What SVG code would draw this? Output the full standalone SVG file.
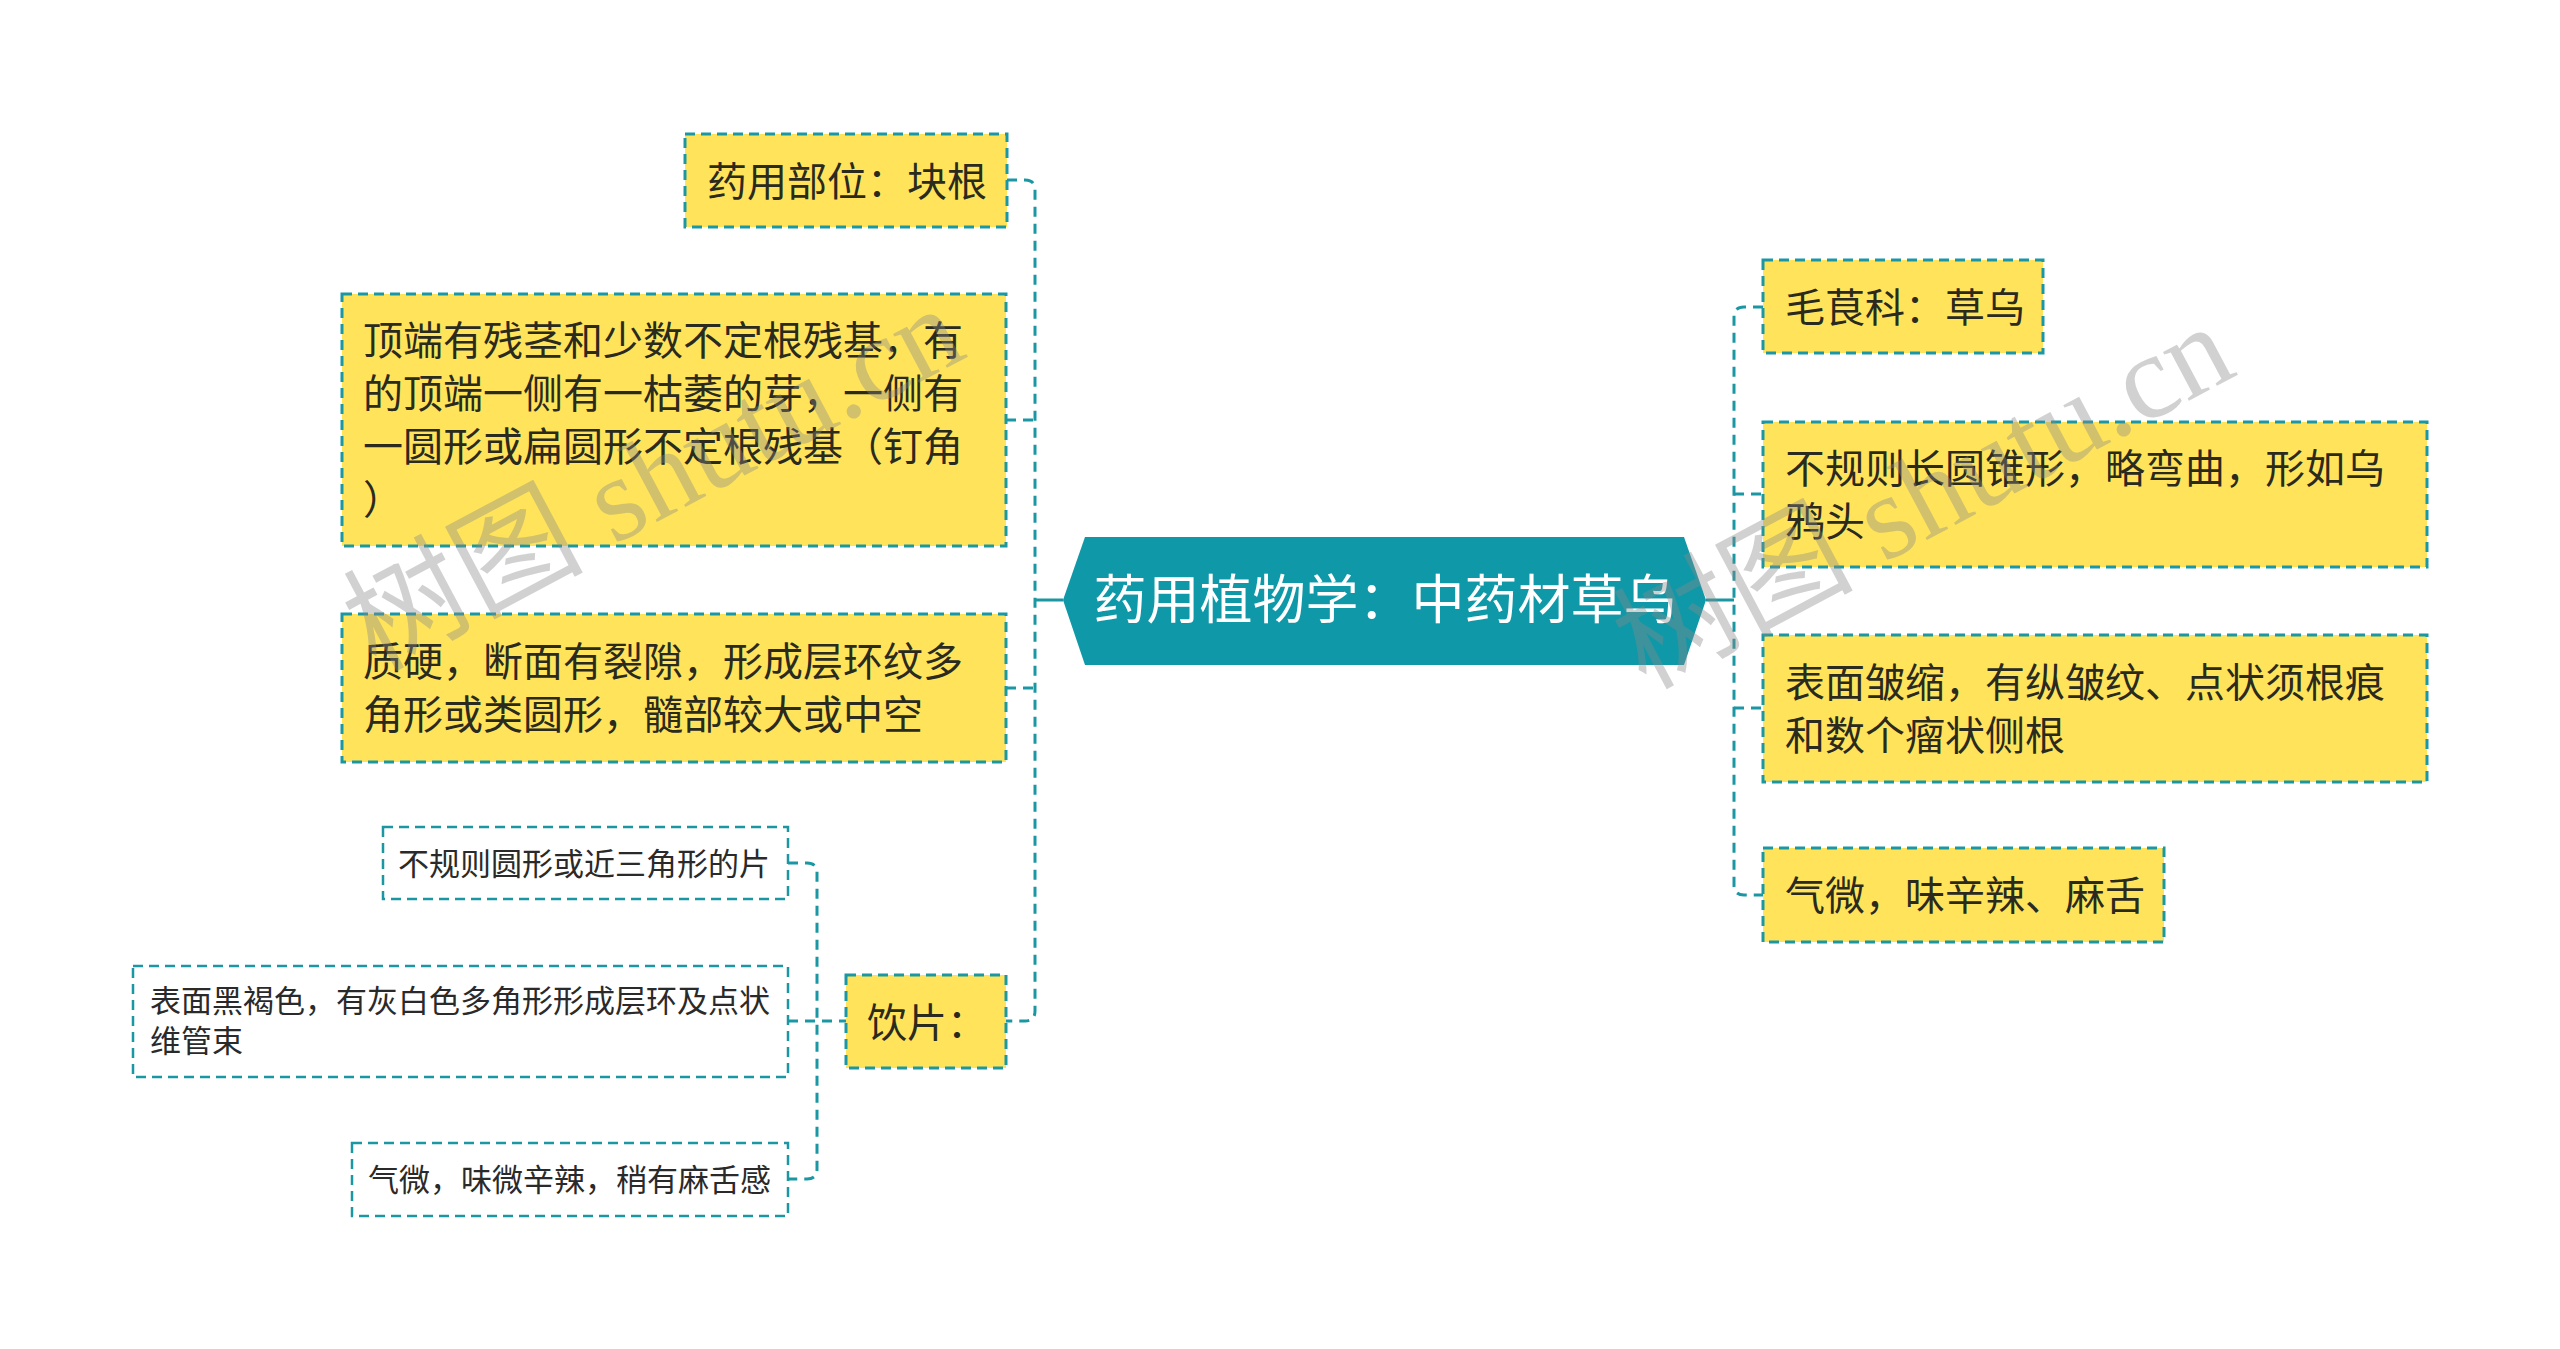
<svg xmlns="http://www.w3.org/2000/svg" width="2560" height="1349" viewBox="0 0 2560 1349">
<style>
.bg{fill:#ffffff}
.box{fill:#FFE45B;stroke:#1A97A3;stroke-width:3;stroke-dasharray:10 6}
.sub{fill:#ffffff;stroke:#1A97A3;stroke-width:2.5;stroke-dasharray:10 6}
.t{font-family:"Noto Sans CJK SC","Noto Sans",sans-serif;font-size:40px;fill:#2a2a1e}
.ts{font-family:"Noto Sans CJK SC","Noto Sans",sans-serif;font-size:31px;fill:#2a2a2a}
.tc{font-family:"Noto Sans CJK SC","Noto Sans",sans-serif;font-size:53px;fill:#ffffff;text-anchor:middle}
.dash{fill:none;stroke:#1A97A3;stroke-width:3;stroke-dasharray:10 7}
.solid{fill:none;stroke:#1A97A3;stroke-width:3}
.wm{font-family:"Liberation Serif","Noto Sans CJK SC",serif;font-size:120px;fill:#888888;opacity:0.38}
</style>
<rect class="bg" x="0" y="0" width="2560" height="1349"/>
<g id="connectors">
<path class="solid" d="M1063 600 H1035"/>
<path class="dash" d="M1007 180 H1025 Q1035 180 1035 190 V1011 Q1035 1021 1025 1021 H1006"/>
<path class="dash" d="M1006 420 H1035"/>
<path class="dash" d="M1006 688 H1035"/>
<path class="solid" d="M1706 600 H1734"/>
<path class="dash" d="M1763 307 H1744 Q1734 307 1734 317 V885 Q1734 895 1744 895 H1763"/>
<path class="dash" d="M1734 494 H1763"/>
<path class="dash" d="M1734 708 H1763"/>
<path class="dash" d="M788 863 H807 Q817 863 817 873 V1169 Q817 1179 807 1179 H788"/>
<path class="dash" d="M788 1021 H846"/>
</g>
<g id="center">
<polygon points="1063,600 1085,537 1684,537 1706,600 1684,665 1085,665" fill="#0F99A8"/>
<text class="tc" x="1385" y="619">药用植物学：中药材草乌</text>
</g>
<g id="n-l1">
<rect class="box" x="685" y="134" width="322" height="93"/>
<text class="t" x="707" y="196">药用部位：块根</text>
</g>
<g id="n-l2">
<rect class="box" x="342" y="294" width="664" height="252"/>
<text class="t" x="363" y="355">顶端有残茎和少数不定根残基，有</text>
<text class="t" x="363" y="408">的顶端一侧有一枯萎的芽，一侧有</text>
<text class="t" x="363" y="461">一圆形或扁圆形不定根残基（钉角</text>
<text class="t" x="363" y="514">）</text>
</g>
<g id="n-l3">
<rect class="box" x="342" y="614" width="664" height="148"/>
<text class="t" x="363" y="676">质硬，断面有裂隙，形成层环纹多</text>
<text class="t" x="363" y="729">角形或类圆形，髓部较大或中空</text>
</g>
<g id="n-l4">
<rect class="box" x="846" y="975" width="160" height="93"/>
<text class="t" x="867" y="1037">饮片：</text>
</g>
<g id="n-s1">
<rect class="sub" x="383" y="827" width="405" height="72"/>
<text class="ts" x="398" y="875">不规则圆形或近三角形的片</text>
</g>
<g id="n-s2">
<rect class="sub" x="133" y="966" width="655" height="111"/>
<text class="ts" x="150" y="1012">表面黑褐色，有灰白色多角形形成层环及点状</text>
<text class="ts" x="150" y="1052">维管束</text>
</g>
<g id="n-s3">
<rect class="sub" x="352" y="1143" width="436" height="73"/>
<text class="ts" x="368" y="1191">气微，味微辛辣，稍有麻舌感</text>
</g>
<g id="n-r1">
<rect class="box" x="1763" y="260" width="280" height="93"/>
<text class="t" x="1785" y="322">毛茛科：草乌</text>
</g>
<g id="n-r2">
<rect class="box" x="1763" y="422" width="664" height="145"/>
<text class="t" x="1785" y="483">不规则长圆锥形，略弯曲，形如乌</text>
<text class="t" x="1785" y="536">鸦头</text>
</g>
<g id="n-r3">
<rect class="box" x="1763" y="635" width="664" height="147"/>
<text class="t" x="1785" y="697">表面皱缩，有纵皱纹、点状须根痕</text>
<text class="t" x="1785" y="750">和数个瘤状侧根</text>
</g>
<g id="n-r4">
<rect class="box" x="1763" y="848" width="401" height="94"/>
<text class="t" x="1785" y="910">气微，味辛辣、麻舌</text>
</g>
<g id="watermark">
<text class="wm" x="375" y="672" transform="rotate(-28 375 672)">树图 shutu.cn</text>
<text class="wm" x="1645" y="690" transform="rotate(-28 1645 690)">树图 shutu.cn</text>
</g>
</svg>
